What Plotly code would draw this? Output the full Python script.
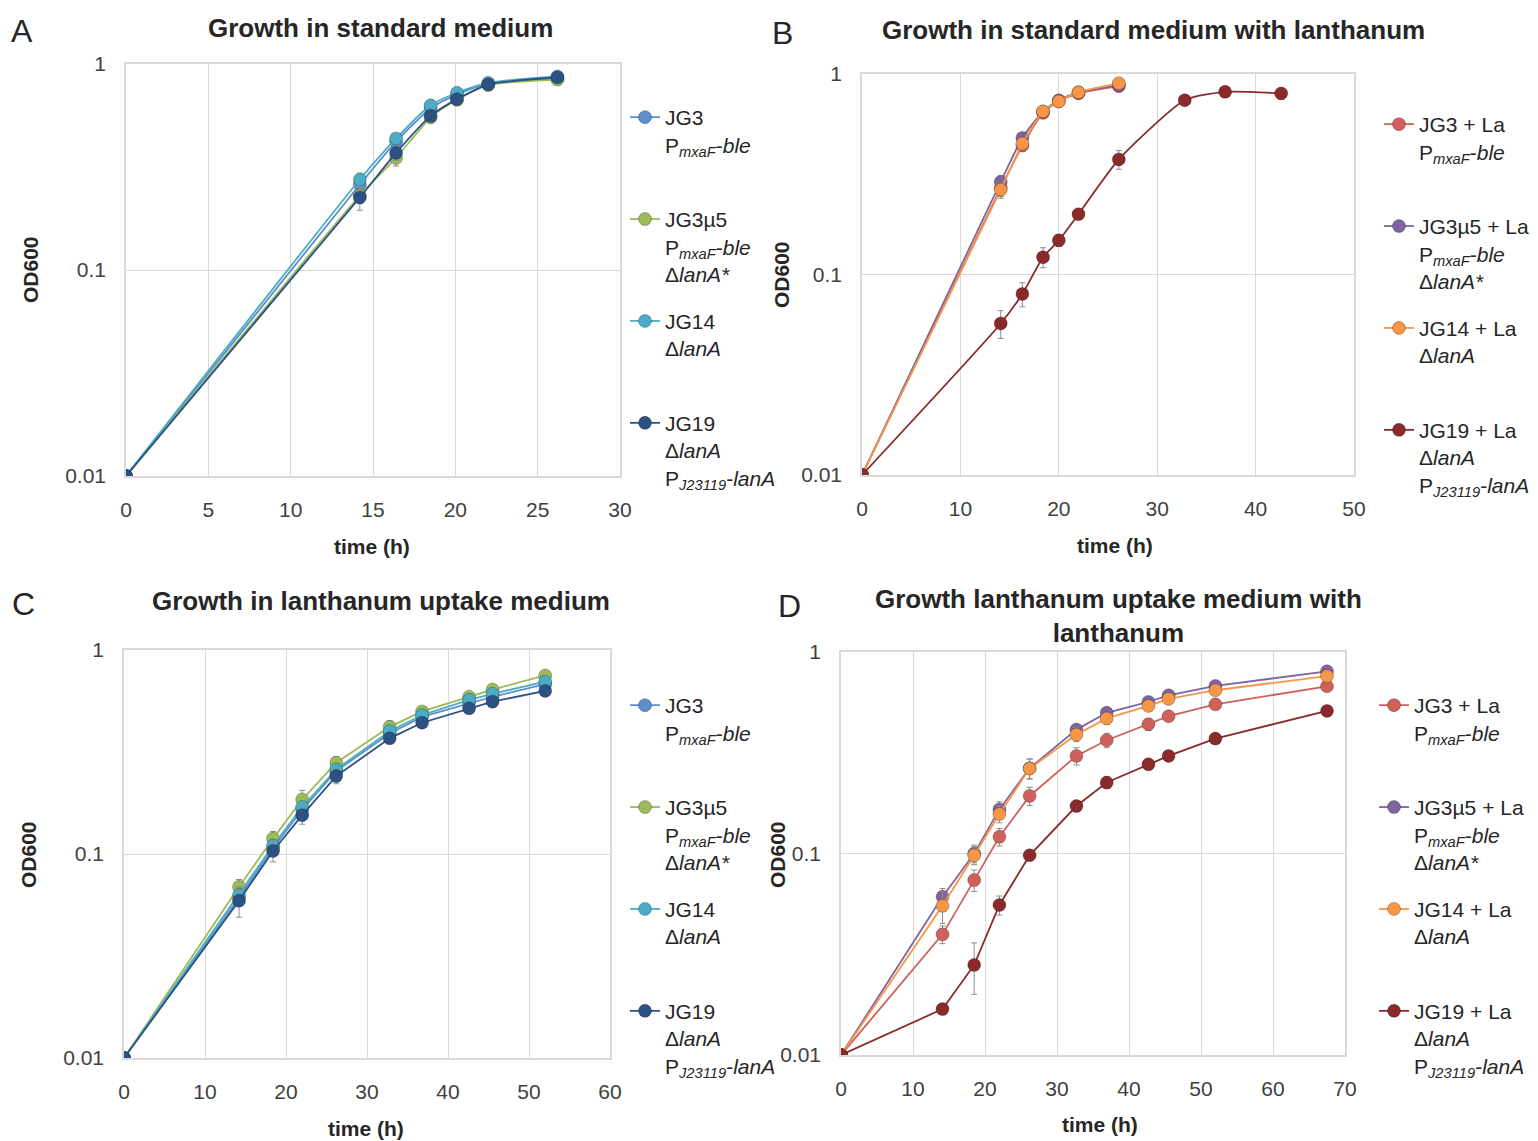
import plotly.graph_objects as go

# ---------------- data ----------------
# Panel A: growth in standard medium
t_A = [0, 14.2, 16.4, 18.5, 20.1, 22.0, 26.2]
A_JG3 = [0.01, 0.26, 0.42, 0.61, 0.71, 0.80, 0.85]
A_JG3u5 = [0.01, 0.23, 0.35, 0.55, 0.67, 0.79, 0.84]
A_JG14 = [0.01, 0.275, 0.435, 0.63, 0.725, 0.81, 0.87]
A_JG19 = [0.01, 0.225, 0.37, 0.56, 0.675, 0.795, 0.86]
A_err_JG3 = [0, 0.02, 0.02, 0.02, 0.02, 0.02, 0.02]
A_err_JG3u5 = [0, 0.02, 0.03, 0.03, 0.02, 0.02, 0.02]
A_err_JG14 = [0, 0.02, 0.02, 0.02, 0.02, 0.02, 0.02]
A_err_JG19 = [0, 0.03, 0.03, 0.04, 0.02, 0.02, 0.03]

# Panel B: growth in standard medium with lanthanum
t_B = [0, 14.1, 16.3, 18.4, 20.0, 22.0, 26.1]
B_JG3 = [0.01, 0.27, 0.44, 0.64, 0.73, 0.80, 0.87]
B_JG3u5 = [0.01, 0.29, 0.48, 0.65, 0.74, 0.81, 0.88]
B_JG14 = [0.01, 0.265, 0.45, 0.65, 0.73, 0.81, 0.90]
B_err_JG3 = [0, 0.03, 0.03, 0.02, 0.02, 0.02, 0.02]
B_err_JG3u5 = [0, 0.02, 0.02, 0.02, 0.02, 0.02, 0.02]
B_err_JG14 = [0, 0.02, 0.02, 0.02, 0.02, 0.02, 0.02]
t_B19 = [0, 14.1, 16.3, 18.4, 20.0, 22.0, 26.1, 32.8, 36.9, 42.6]
B_JG19 = [0.01, 0.057, 0.080, 0.122, 0.148, 0.200, 0.375, 0.74, 0.815, 0.80]
B_err_JG19 = [0, 0.009, 0.011, 0.014, 0.010, 0.008, 0.04, 0.02, 0.05, 0.05]

# Panel C: growth in lanthanum uptake medium
t_C = [0, 14.2, 18.4, 22.0, 26.2, 32.8, 36.8, 42.6, 45.5, 52.0]
C_JG3 = [0.01, 0.061, 0.107, 0.165, 0.255, 0.39, 0.47, 0.55, 0.59, 0.68]
C_JG3u5 = [0.01, 0.069, 0.119, 0.185, 0.28, 0.42, 0.50, 0.59, 0.64, 0.75]
C_JG14 = [0.01, 0.063, 0.11, 0.17, 0.26, 0.40, 0.48, 0.57, 0.61, 0.70]
C_JG19 = [0.01, 0.059, 0.1035, 0.155, 0.241, 0.369, 0.44, 0.518, 0.558, 0.63]
C_err_JG3 = [0, 0.005, 0.008, 0.01, 0.015, 0.02, 0.02, 0.02, 0.02, 0.02]
C_err_JG3u5 = [0, 0.006, 0.01, 0.02, 0.02, 0.03, 0.02, 0.02, 0.02, 0.03]
C_err_JG14 = [0, 0.005, 0.008, 0.01, 0.015, 0.02, 0.02, 0.02, 0.02, 0.02]
C_err_JG19 = [0, 0.01, 0.012, 0.015, 0.02, 0.02, 0.02, 0.02, 0.02, 0.02]

# Panel D: growth in lanthanum uptake medium with lanthanum
t_D = [0, 14.1, 18.5, 22.0, 26.2, 32.7, 36.9, 42.7, 45.5, 52.0, 67.5]
D_JG3 = [0.01, 0.0397, 0.0738, 0.121, 0.193, 0.305, 0.365, 0.438, 0.48, 0.55, 0.676]
D_JG3u5 = [0.01, 0.061, 0.100, 0.1655, 0.265, 0.412, 0.499, 0.565, 0.61, 0.679, 0.802]
D_JG14 = [0.01, 0.055, 0.098, 0.157, 0.264, 0.389, 0.468, 0.54, 0.585, 0.646, 0.76]
D_JG19 = [0.01, 0.0169, 0.028, 0.0555, 0.098, 0.172, 0.225, 0.277, 0.305, 0.372, 0.51]
D_err_JG3 = [0, 0.004, 0.009, 0.012, 0.02, 0.03, 0.03, 0.03, 0.02, 0.02, 0.02]
D_err_JG3u5 = [0, 0.006, 0.01, 0.015, 0.03, 0.02, 0.02, 0.02, 0.02, 0.02, 0.02]
D_err_JG14 = [0, 0.01, 0.01, 0.015, 0.03, 0.03, 0.03, 0.02, 0.02, 0.02, 0.02]
D_err_JG19 = [0, 0.001, 0.008, 0.006, 0.005, 0.01, 0.015, 0.01, 0.01, 0.01, 0.01]

# legend labels
names_plain = [
    "JG3<br>P<sub><i>mxaF</i></sub>-<i>ble</i><br> ",
    "JG3µ5<br>P<sub><i>mxaF</i></sub>-<i>ble</i><br>Δ<i>lanA*</i>",
    "JG14<br>Δ<i>lanA</i><br> ",
    "JG19<br>Δ<i>lanA</i><br>P<sub><i>J23119</i></sub>-<i>lanA</i>",
]
names_la = [
    "JG3 + La<br>P<sub><i>mxaF</i></sub>-<i>ble</i><br> ",
    "JG3µ5 + La<br>P<sub><i>mxaF</i></sub>-<i>ble</i><br>Δ<i>lanA*</i>",
    "JG14 + La<br>Δ<i>lanA</i><br> ",
    "JG19 + La<br>Δ<i>lanA</i><br>P<sub><i>J23119</i></sub>-<i>lanA</i>",
]

colors_plain = ["#5E8FCA", "#9BBB59", "#4BACC6", "#2B5283"]
colors_la = ["#D0605C", "#8064A2", "#F79646", "#8A2A2A"]

FONT = "Arial, 'Liberation Sans', sans-serif"
# the page places the figure 8 px in from the top-left corner of the window
OFF = 8
W, H = 1538 - OFF, 1141 - OFF


def px_x(p):
    return (p - OFF) / W


def px_y(p):
    return 1 - (p - OFF) / H


fig = go.Figure()


def add(x, y, err, name, color, xa, ya, leg, shape):
    fig.add_trace(go.Scatter(
        x=x, y=y, name=name, mode="lines+markers",
        line=dict(color=color, width=1.8, shape=shape, smoothing=0.6),
        marker=dict(size=13, color=color, line=dict(color="rgba(0,0,0,0.25)", width=1)),
        error_y=dict(type="data", array=err, color="#8c8c8c", thickness=1, width=3),
        xaxis=xa, yaxis=ya, legend=leg, legendgroup=leg + name,
    ))


# Panel A
for y, e, n, c in zip([A_JG3, A_JG3u5, A_JG14, A_JG19],
                      [A_err_JG3, A_err_JG3u5, A_err_JG14, A_err_JG19],
                      names_plain, colors_plain):
    add(t_A, y, e, n, c, "x", "y", "legend", "spline")

# Panel B
for x, y, e, n, c in zip([t_B, t_B, t_B, t_B19],
                         [B_JG3, B_JG3u5, B_JG14, B_JG19],
                         [B_err_JG3, B_err_JG3u5, B_err_JG14, B_err_JG19],
                         names_la, colors_la):
    add(x, y, e, n, c, "x2", "y2", "legend2", "spline")

# Panel C
for y, e, n, c in zip([C_JG3, C_JG3u5, C_JG14, C_JG19],
                      [C_err_JG3, C_err_JG3u5, C_err_JG14, C_err_JG19],
                      names_plain, colors_plain):
    add(t_C, y, e, n, c, "x3", "y3", "legend3", "linear")

# Panel D
for y, e, n, c in zip([D_JG3, D_JG3u5, D_JG14, D_JG19],
                      [D_err_JG3, D_err_JG3u5, D_err_JG14, D_err_JG19],
                      names_la, colors_la):
    add(t_D, y, e, n, c, "x4", "y4", "legend4", "linear")

# panel geometry in pixels: (left, right, top, bottom, xmax, dtick)
panels = {
    "": (126, 620, 64, 476, 30, 5),
    "2": (862, 1354, 74, 475, 50, 10),
    "3": (124, 610, 650, 1058, 60, 10),
    "4": (841, 1345, 652, 1055, 70, 10),
}

grid = "#d9d9d9"
tickfont = dict(family=FONT, size=21, color="#404040")
layout_axes = {}
for k, (l, r, t, b, xmax, dt) in panels.items():
    layout_axes["xaxis" + k] = dict(
        domain=[px_x(l), px_x(r)], range=[0, xmax], dtick=dt, tick0=0,
        showgrid=True, gridcolor=grid, gridwidth=1, showline=True, linecolor=grid,
        linewidth=1.5, mirror=True, zeroline=False, ticks="", tickfont=tickfont,
        ticklabelstandoff=14, anchor="y" + k,
    )
    layout_axes["yaxis" + k] = dict(
        domain=[px_y(b), px_y(t)], type="log", range=[-2, 0],
        tickvals=[0.01, 0.1, 1], ticktext=["0.01", "0.1", "1"],
        showgrid=True, gridcolor=grid, gridwidth=1, showline=True, linecolor=grid,
        linewidth=1.5, mirror=True, zeroline=False, ticks="", tickfont=tickfont,
        ticklabelstandoff=14, anchor="x" + k,
    )

legfont = dict(family=FONT, size=21, color="#262626")
leg_common = dict(font=legfont, bgcolor="rgba(0,0,0,0)", valign="top",
                  tracegroupgap=17, itemwidth=30, xanchor="left", yanchor="top",
                  itemclick=False, itemdoubleclick=False)
legends = {
    "legend": dict(x=px_x(625), y=px_y(97), **leg_common),
    "legend2": dict(x=px_x(1379), y=px_y(104), **leg_common),
    "legend3": dict(x=px_x(625), y=px_y(685), **leg_common),
    "legend4": dict(x=px_x(1374), y=px_y(685), **leg_common),
}

annotations = []


def text(x, y, s, size, bold=False, angle=0, color="#262626"):
    annotations.append(dict(
        x=px_x(x), y=px_y(y), xref="paper", yref="paper", text=("<b>%s</b>" % s) if bold else s,
        showarrow=False, xanchor="center", yanchor="middle", textangle=angle,
        font=dict(family=FONT, size=size, color=color),
    ))


# panel letters
text(22, 31, "A", 32)
text(782, 33, "B", 32)
text(24, 604, "C", 32)
text(789, 606, "D", 32)
# titles
text(380, 28, "Growth in standard medium", 26, True)
text(1153, 30, "Growth in standard medium with lanthanum", 26, True)
text(381, 601, "Growth in lanthanum uptake medium", 26, True)
text(1118, 616, "Growth lanthanum uptake medium with<br>lanthanum", 26, True)
# axis titles
text(30, 270, "OD600", 21, True, -90)
text(781, 275, "OD600", 21, True, -90)
text(28, 855, "OD600", 21, True, -90)
text(777, 855, "OD600", 21, True, -90)
text(372, 546, "time (h)", 21, True)
text(1115, 545, "time (h)", 21, True)
text(366, 1128, "time (h)", 21, True)
text(1100, 1124, "time (h)", 21, True)

fig.update_layout(
    width=W, height=H, autosize=False,
    margin=dict(l=0, r=0, t=0, b=0, pad=0, autoexpand=False),
    paper_bgcolor="white", plot_bgcolor="white",
    annotations=annotations,
    **layout_axes, **legends,
)

fig.write_html("out.html")
